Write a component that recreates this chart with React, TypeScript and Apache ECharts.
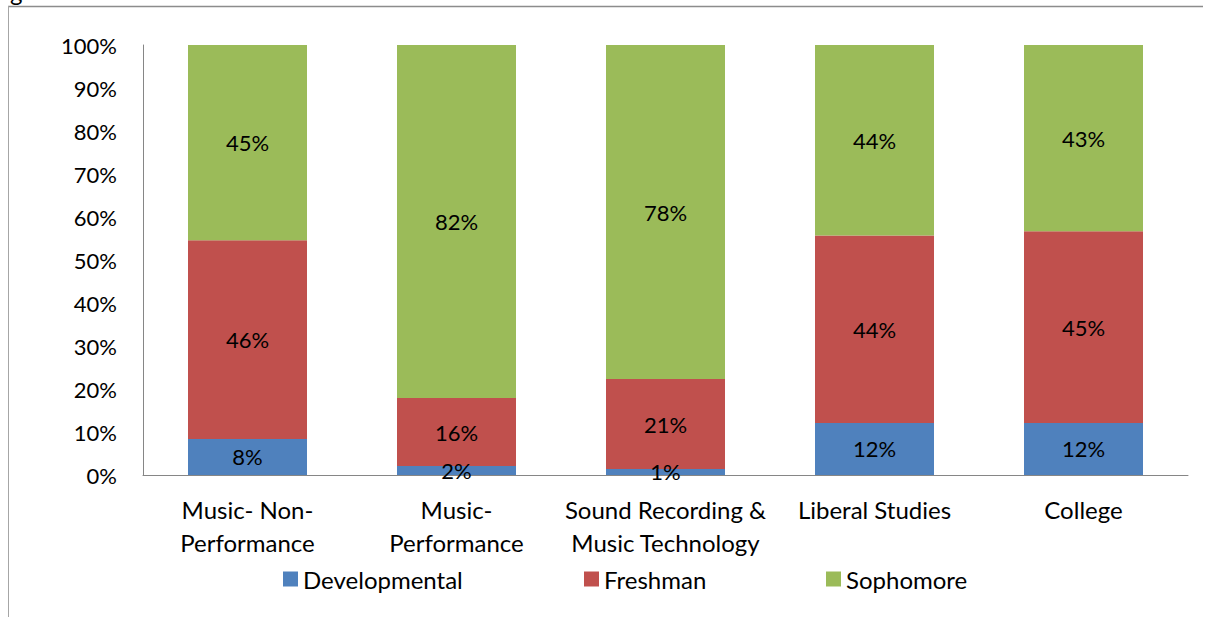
import React, { useEffect, useRef } from "react";
import * as echarts from "echarts";

const categories = [
  "Music- Non-\nPerformance",
  "Music-\nPerformance",
  "Sound Recording &\nMusic Technology",
  "Liberal Studies",
  "College",
];
const seriesNames = ["Developmental", "Freshman", "Sophomore"];
const developmental = [8.4, 2.1, 1.4, 12.1, 12.1];
const freshman = [46.2, 15.8, 20.9, 43.6, 44.6];
const sophomore = [45.4, 82.1, 77.7, 44.3, 43.3];
const colors = ["#4F81BD", "#C0504D", "#9BBB59"];
const legendLeft = [283, 584, 826];

const FONT = "Lato, 'Open Sans', sans-serif";

export default function App() {
  const ref = useRef<HTMLDivElement>(null);
  useEffect(() => {
    if (!ref.current) return;
    const chart = echarts.init(ref.current, undefined, { renderer: "svg" });
    const data = [developmental, freshman, sophomore];
    chart.setOption({
      animation: false,
      textStyle: { fontFamily: FONT },
      grid: { left: 143, top: 45, right: 18, bottom: 142, containLabel: false },
      legend: seriesNames.map((n, i) => ({
        data: [n],
        left: legendLeft[i],
        top: 567,
        padding: 0,
        itemWidth: 15,
        itemHeight: 15,
        icon: "rect",
        itemStyle: { borderWidth: 0 },
        textStyle: { fontSize: 24, color: "#000", fontFamily: FONT, lineHeight: 24 },
      })),
      xAxis: {
        type: "category",
        data: categories,
        axisLine: { show: true, lineStyle: { color: "#868686", width: 1 } },
        axisTick: { show: false },
        axisLabel: {
          color: "#000",
          fontSize: 24,
          lineHeight: 33,
          margin: 18,
          interval: 0,
          fontFamily: FONT,
        },
      },
      yAxis: {
        type: "value",
        min: 0,
        max: 100,
        interval: 10,
        axisLine: { show: true, lineStyle: { color: "#868686", width: 1 } },
        axisTick: { show: false },
        splitLine: { show: false },
        axisLabel: {
          color: "#000",
          fontSize: 22,
          margin: 26,
          formatter: "{value}%",
          fontFamily: FONT,
        },
      },
      series: seriesNames.map((n, i) => ({
        name: n,
        type: "bar",
        stack: "total",
        barWidth: 119,
        data: data[i],
        itemStyle: { color: colors[i] },
        label: {
          show: true,
          position: "inside",
          color: "#000",
          fontSize: 22,
          fontFamily: FONT,
          formatter: (p: any) => Math.round(p.value) + "%",
        },
      })),
      graphic: [
        {
          type: "line",
          shape: { x1: 8, y1: 6.5, x2: 1203, y2: 6.5 },
          style: { stroke: "#8c8c8c", lineWidth: 1.5 },
        },
        {
          type: "line",
          shape: { x1: 8.5, y1: 6, x2: 8.5, y2: 617 },
          style: { stroke: "#a6a6a6", lineWidth: 1 },
        },
        {
          type: "text",
          x: 10,
          y: -21,
          style: { text: "g", font: "24px " + FONT, fill: "#000", textVerticalAlign: "top" },
        },
      ],
    });
    return () => chart.dispose();
  }, []);
  return (
    <div
      ref={ref}
      style={{ position: "fixed", left: 0, top: 0, width: 1206, height: 617, background: "#fff" }}
    />
  );
}
